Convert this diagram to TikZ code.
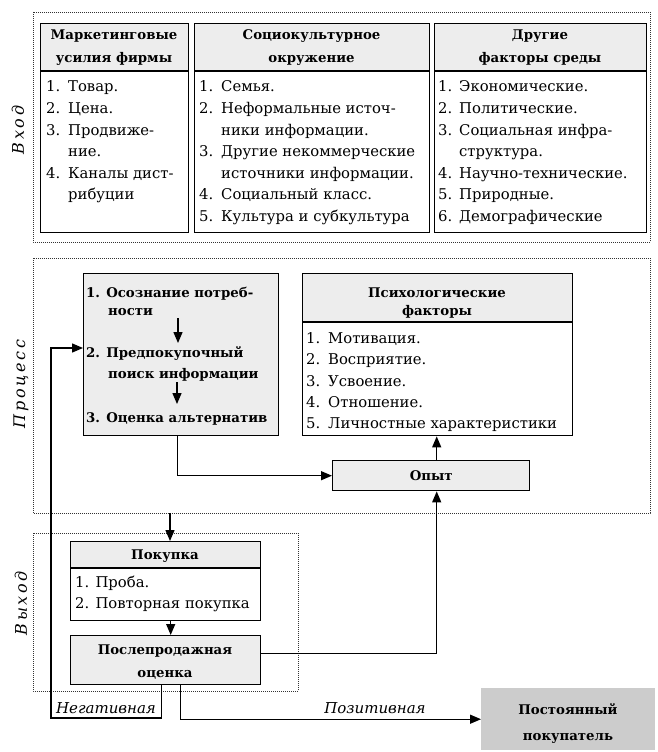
\documentclass[tikz,border=0pt]{standalone}
\usepackage{fontspec}
\setmainfont{DejaVu Serif}
\usetikzlibrary{arrows.meta,calc}
\newcommand\myfs{\fontsize{14.8}{17}\selectfont}
\newcommand\myfsb{\fontsize{13.3}{16}\selectfont\bfseries}
\newcommand\myfsi{\fontsize{15}{17}\selectfont\itshape}
\newcommand\myfss{\fontsize{16}{18}\selectfont\itshape}
\begin{document}
\begin{tikzpicture}[x=1pt,y=-1pt,
  frame/.style={line width=0.9pt, dash pattern=on 0.9pt off 1.1pt, draw=black!80},
  box/.style={draw, line width=1.4pt, inner sep=0pt, anchor=north west},
  hdr/.style={fill=gray!14},
  t/.style={anchor=base west, inner sep=0pt, font=\myfs},
  tb/.style={anchor=base west, inner sep=0pt, font=\myfsb},
  th/.style={anchor=base, inner sep=0pt, font=\myfsb},
  arr/.style={line width=1.3pt, -{Triangle[length=11pt,width=9pt]}},
  ln/.style={line width=1.4pt},
  side/.style={rotate=90, font=\myfss, inner sep=0pt},
  lab/.style={font=\myfsi, anchor=base, inner sep=0pt}]
\useasboundingbox (0,0) rectangle (658,752);
\fill[white] (0,0) rectangle (658,752);

% ---------------- frames
\draw[frame] (33,12) rectangle (650,242);
\draw[frame] (33,258) rectangle (650,513);
\draw[frame] (33,533) rectangle (298,691);
\node[side] (sin) at (18,130) {В\,х\,о\,д};
\node[side] (spr) at (21,384) {П\,р\,о\,ц\,е\,с\,с};
\node[side] (sout) at (21,603) {В\,ы\,х\,о\,д};

% ---------------- input boxes
\fill[hdr] (40,23) rectangle (188,71);
\fill[hdr] (194,23) rectangle (429,71);
\fill[hdr] (434,23) rectangle (646,71);
\node[box, minimum width=148pt, minimum height=209pt] (b1) at (40,23) {};
\node[box, minimum width=235pt, minimum height=209pt] (b2) at (194,23) {};
\node[box, minimum width=212pt, minimum height=209pt] (b3) at (434,23) {};
\draw[ln] (40,71) -- (188,71);
\draw[ln] (194,71) -- (429,71);
\draw[ln] (434,71) -- (646,71);

\node[th] (h1a) at (114,40) {Маркетинговые};
\node[th] (h1b) at (114,63) {усилия фирмы};
\node[th] (h2a) at (311.5,40) {Социокультурное};
\node[th] (h2b) at (311.5,63) {окружение};
\node[th] (h3a) at (540,40) {Другие};
\node[th] (h3b) at (540,63) {факторы среды};

\node[t] at (46,92) {1.};    \node[t] at (68,92) {Товар.};
\node[t] at (46,113.5) {2.}; \node[t] at (68,113.5) {Цена.};
\node[t] at (46,135) {3.};   \node[t] at (68,135) {Продвиже-};
                             \node[t] at (68,156.5) {ние.};
\node[t] at (46,178) {4.};   \node[t] at (68,178) {Каналы дист-};
                             \node[t] at (68,199.5) {рибуции};

\node[t] at (199,92) {1.};    \node[t] at (221,92) {Семья.};
\node[t] at (199,113.5) {2.}; \node[t] at (221,113.5) {Неформальные источ-};
                              \node[t] at (221,135) {ники информации.};
\node[t] at (199,156.5) {3.}; \node[t] at (221,156.5) {Другие некоммерческие};
                              \node[t] at (221,178) {источники информации.};
\node[t] at (199,199.5) {4.}; \node[t] at (221,199.5) {Социальный класс.};
\node[t] at (199,221) {5.};   \node[t] at (221,221) {Культура и субкультура};

\node[t] at (438,92) {1.};    \node[t] at (459,92) {Экономические.};
\node[t] at (438,113.5) {2.}; \node[t] at (459,113.5) {Политические.};
\node[t] at (438,135) {3.};   \node[t] at (459,135) {Социальная инфра-};
                              \node[t] at (459,156.5) {структура.};
\node[t] at (438,178) {4.};   \node[t] at (459,178) {Научно-технические.};
\node[t] at (438,199.5) {5.}; \node[t] at (459,199.5) {Природные.};
\node[t] at (438,221) {6.};   \node[t] at (459,221) {Демографические};

% ---------------- process
\node[box, hdr, minimum width=195pt, minimum height=162pt] (dec) at (83,273) {};
\node[tb] (d1a) at (86,297) {1. Осознание потреб-};
\node[tb] (d1b) at (108,315) {ности};
\node[tb] (d2a) at (86,357) {2. Предпокупочный};
\node[tb] (d2b) at (108,378) {поиск информации};
\node[tb] (d3) at (86,422) {3. Оценка альтернатив};
\draw[arr] (178,318) -- (178,343);
\draw[arr] (177,382) -- (177,404);

\fill[hdr] (302,273) rectangle (572,322);
\node[box, minimum width=270pt, minimum height=162pt] (psych) at (302,273) {};
\draw[ln] (302,322) -- (572,322);
\node[th] (ph1) at (437,297) {Психологические};
\node[th] (ph2) at (437,315) {факторы};
\node[t] at (306,343) {1.}; \node[t] at (328,343) {Мотивация.};
\node[t] at (306,364.5) {2.}; \node[t] at (328,364.5) {Восприятие.};
\node[t] at (306,386) {3.}; \node[t] at (328,386) {Усвоение.};
\node[t] at (306,407) {4.}; \node[t] at (328,407) {Отношение.};
\node[t] at (306,428) {5.}; \node[t] at (328,428) {Личностные характеристики};

\node[box, hdr, minimum width=197pt, minimum height=30pt] (opyt) at (332,460) {};
\node[th, anchor=center] at (opyt.center) {Опыт};

% ---------------- output
\fill[hdr] (70,541) rectangle (260,568);
\node[box, minimum width=190pt, minimum height=79pt] (pok) at (70,541) {};
\draw[ln] (70,568) -- (260,568);
\node[th] (pokh) at (165,559) {Покупка};
\node[t] at (75,587) {1. Проба.};
\node[t] at (75,608) {2. Повторная покупка};

\node[box, hdr, minimum width=190pt, minimum height=49pt] (post) at (70,635) {};
\node[th] at (165,654) {Послепродажная};
\node[th] at (165,677) {оценка};

\node[inner sep=0pt, anchor=north west, fill=gray!40, minimum width=174pt, minimum height=62pt] (reg) at (481,688) {};
\node[th] at (568,714) {Постоянный};
\node[th] at (568,740) {покупатель};

% ---------------- connectors
\coordinate (fb) at (51,348);
\coordinate (nl) at (51,718);
\coordinate (pin) at (170,513);
\draw[arr] ([xshift=-4pt]post.south) |- (nl) -- (fb) -- (fb -| dec.west);
\draw[arr] ([xshift=15pt]post.south) |- (reg.west);
\draw[arr] ([yshift=7pt]post.east) -| ([xshift=5.5pt]opyt.south);
\draw[arr] ([xshift=5.5pt]opyt.north) -- ([xshift=5.5pt]opyt.north |- psych.south);
\draw[arr] ([xshift=-4pt]dec.south) |- (opyt.west);
\draw[arr] (pin) -- (pin |- pok.north);
\draw[arr] ([xshift=5pt]pok.south) -- ([xshift=5pt]post.north);

\node[lab] (neg) at (106,713) {Негативная};
\node[lab] (pos) at (375,713) {Позитивная};
\end{tikzpicture}
\end{document}
